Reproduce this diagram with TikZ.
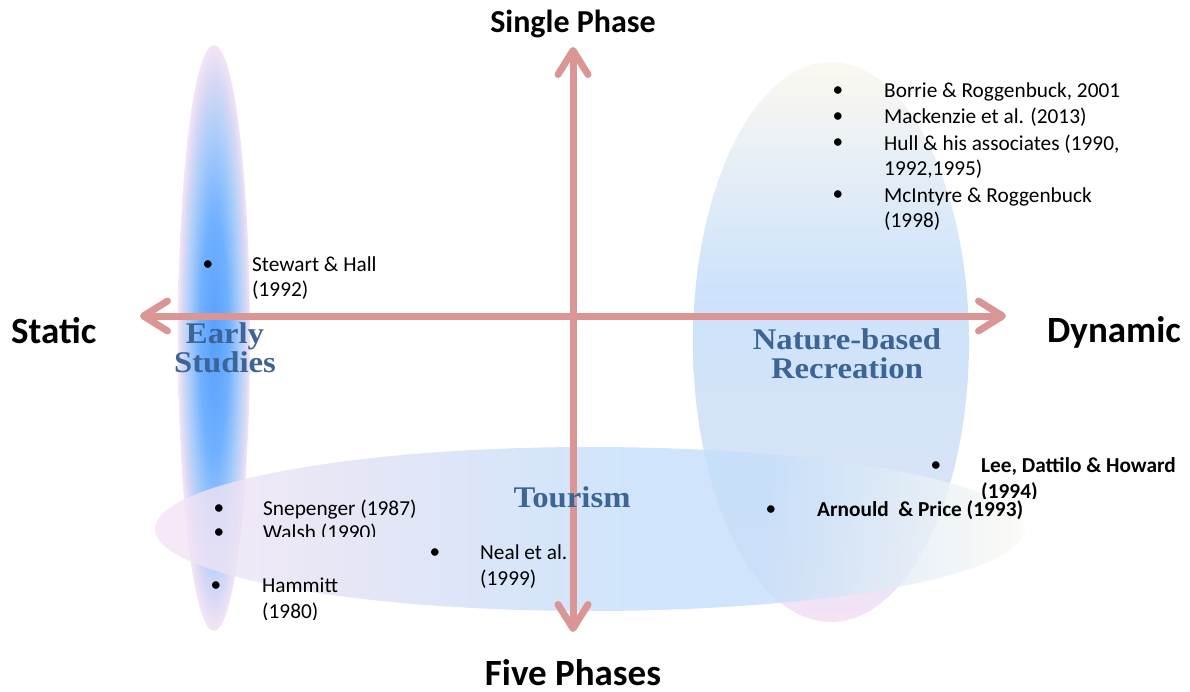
\documentclass[tikz,border=0pt]{standalone}
\usepackage{fontspec}
\setmainfont{Carlito}
\newfontfamily\capfont[FakeStretch=1.09]{Liberation Serif}
\usetikzlibrary{arrows.meta}
\definecolor{arrowc}{RGB}{217,150,148}
\definecolor{labc}{RGB}{60,100,150}
\definecolor{esCore}{RGB}{88,160,255}
\definecolor{esCoreB}{RGB}{112,176,255}
\definecolor{esMid}{RGB}{168,204,250}
\definecolor{esLav}{RGB}{214,216,245}
\definecolor{esEdge}{RGB}{244,228,245}
\definecolor{nbTop}{RGB}{251,247,238}
\definecolor{nbBlue}{RGB}{196,222,251}
\definecolor{nbLav}{RGB}{208,222,244}
\definecolor{nbPink}{RGB}{242,222,243}
\definecolor{tPink}{RGB}{245,228,245}
\definecolor{tLav}{RGB}{220,224,244}
\definecolor{tBlue}{RGB}{196,222,250}
\definecolor{tWhite}{RGB}{252,250,244}
\pgfdeclareradialshading{earlysh}{\pgfpoint{0bp}{0bp}}{color(0bp)=(esCore); color(10bp)=(esCoreB); color(17bp)=(esMid); color(22bp)=(esLav); color(25bp)=(esEdge); color(50bp)=(esEdge)}
\pgfdeclareverticalshading{natsh}{100bp}{color(0bp)=(nbPink); color(25bp)=(nbPink); color(38bp)=(nbLav); color(55bp)=(nbBlue); color(75bp)=(nbTop); color(100bp)=(nbTop)}
\pgfdeclarehorizontalshading{toursh}{100bp}{color(0bp)=(tPink); color(25bp)=(tPink); color(38bp)=(tLav); color(52bp)=(tBlue); color(60bp)=(tBlue); color(75bp)=(tWhite); color(100bp)=(tWhite)}
\tikzset{
  axisarrow/.style={draw=arrowc, line width=7pt, {Straight Barb[length=24pt,width=30pt,line cap=round,line join=round]}-{Straight Barb[length=24pt,width=30pt,line cap=round,line join=round]}},
  polelabel/.style={font=\fontsize{32}{36}\selectfont\bfseries, text=black, inner sep=0pt},
  bigpolelabel/.style={font=\fontsize{37}{40}\selectfont\bfseries, text=black, inner sep=0pt},
  sidelabel/.style={font=\fontsize{37}{40}\selectfont\bfseries, text=black, inner sep=0pt},
  grouplabel/.style={font=\capfont\fontsize{30}{29}\selectfont\bfseries, text=labc, align=center, inner sep=0pt},
  reftext/.style={font=\fontsize{21.3}{25.5}\selectfont, anchor=base west, inner sep=0pt, align=left},
  reftextb/.style={font=\fontsize{21.3}{25.5}\selectfont\bfseries, anchor=base west, inner sep=0pt, align=left},
  bulletmark/.style={font=\fontsize{21.3}{25.5}\selectfont, anchor=base, inner sep=0pt},
}
\begin{document}
\begin{tikzpicture}[x=1pt,y=-1pt]
\useasboundingbox (0,0) rectangle (1190,692);
% ellipses
\path[shading=earlysh] (214,338) ellipse [x radius=36, y radius=293];
\path[shading=natsh, fill opacity=0.85] (831,342) ellipse [x radius=138, y radius=280];
\path[shading=toursh, fill opacity=0.8] (590,529) ellipse [x radius=435, y radius=82];
% axes
\coordinate (W) at (140,316);
\coordinate (E) at (1006,316);
\coordinate (N) at (573,47);
\coordinate (S) at (573,632);
\draw[axisarrow] (W) -- (E);
\draw[axisarrow] (S) -- (N);
% pole labels
\node[polelabel] (single) at (573,24) {Single Phase};
\node[bigpolelabel] (five) at (573,673) {Five Phases};
\node[sidelabel, anchor=west] (static) at (11,331) {Static};
\node[sidelabel, anchor=east] (dynamic) at (1181,332) {Dynamic};
% group labels
\node[grouplabel] (early) at (225,348) {Early\\Studies};
\node[grouplabel] (nature) at (847,354) {Nature-based\\Recreation};
\node[grouplabel] (tourism) at (572,497) {Tourism};
% references
\node[bulletmark] (b1) at (208,271) {•};
\node[reftext] (t1) at (252,297) {Stewart \& Hall\\(1992)};
\node[bulletmark] (b2) at (838,97) {•};
\node[reftext] (t2) at (884,98) {Borrie \& Roggenbuck, 2001};
\node[bulletmark] (b3) at (838,123) {•};
\node[reftext] (t3) at (884,124) {Mackenzie et al. (2013)};
\node[bulletmark] (b4) at (838,149) {•};
\node[reftext] (t4) at (884,176) {Hull \& his associates (1990,\\1992,1995)};
\node[bulletmark] (b5) at (838,201) {•};
\node[reftext] (t5) at (884,228) {McIntyre \& Roggenbuck\\(1998)};
\node[bulletmark] (b6) at (936,471) {•};
\begin{scope}
\clip (900,440) rectangle (1190,498);
\node[reftextb] (t6) at (981,498) {Lee, Dattilo \& Howard\\(1994)};
\end{scope}
\node[bulletmark] (b7) at (771,515) {•};
\node[reftextb] (t7) at (817,516) {Arnould\ \ \& Price (1993)};
\node[bulletmark] (b8) at (219,514) {•};
\node[reftext] (t8) at (263,515) {Snepenger (1987)};
\node[bulletmark] (b9) at (219,538) {•};
\begin{scope}
\clip (240,515) rectangle (420,536);
\node[reftext] (t9) at (263,539) {Walsh (1990)};
\end{scope}
\node[bulletmark] (b10) at (435,558) {•};
\begin{scope}
\clip (460,530) rectangle (620,587);
\node[reftext] (t10) at (480,585) {Neal et al.\\(1999)};
\end{scope}
\node[bulletmark] (b11) at (216,591) {•};
\begin{scope}
\clip (240,565) rectangle (420,619);
\node[reftext] (t11) at (262,618) {Hammitt\\(1980)};
\end{scope}
\end{tikzpicture}
\end{document}
